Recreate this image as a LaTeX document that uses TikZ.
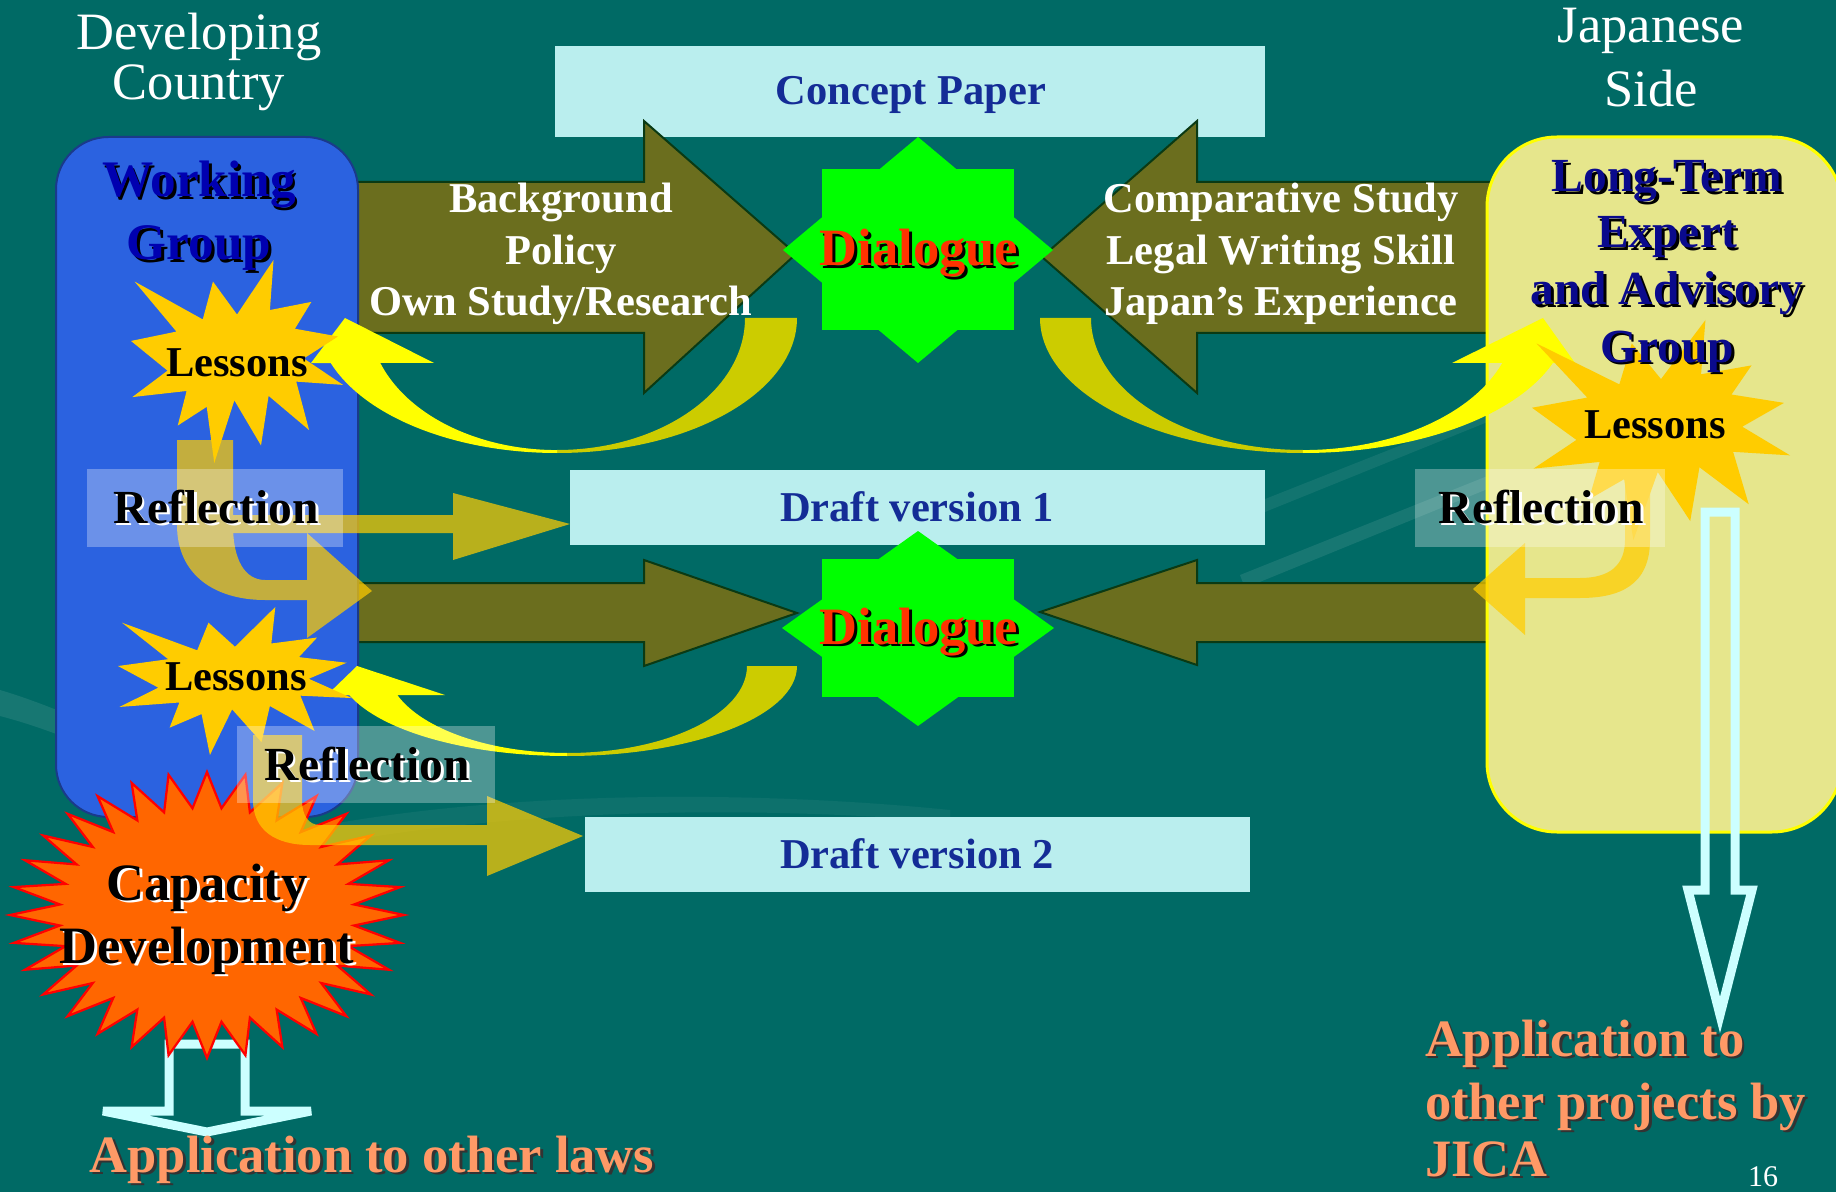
\documentclass[tikz,border=0pt]{standalone}
\usepackage{fontspec}
\setmainfont{Liberation Serif}
\definecolor{bgteal}{HTML}{006A65}
\definecolor{cyanbox}{HTML}{BAEEEE}
\definecolor{boxblue}{HTML}{142C96}
\definecolor{wgblue}{HTML}{2B62E0}
\definecolor{wgborder}{HTML}{1A3A8A}
\definecolor{wgtext}{HTML}{0000B0}
\definecolor{ltyellow}{HTML}{E6E68C}
\definecolor{ltborder}{HTML}{FFFF00}
\definecolor{lttext}{HTML}{0A0A8C}
\definecolor{olivef}{HTML}{6B6E1E}
\definecolor{oliveedge}{HTML}{0A3A14}
\definecolor{dlgreen}{HTML}{00FF00}
\definecolor{dlred}{HTML}{FF3300}
\definecolor{lessonfill}{HTML}{FFCC00}
\definecolor{brightyel}{HTML}{FFFF00}
\definecolor{darkyel}{HTML}{CCCC00}
\definecolor{capfill}{HTML}{FF6600}
\definecolor{capedge}{HTML}{FF0000}
\definecolor{downcyan}{HTML}{CCFFFF}
\definecolor{appsalmon}{HTML}{FF9966}
\newcommand\shtxt[6]{%
  \node[#3,text=#5,xshift=1.1pt,yshift=-1.1pt] (#1s) at (#2) {#6};
  \node[#3,text=#4] (#1) at (#2) {#6};}
\newcommand\explosion[4]{% x0, y0, w, h
  \fill[lessonfill] (#1+108/216*#3, #2+58/216*#4)
  \foreach \px/\py in {145.22/0, 141.55/53.25, 183.80/44.57, 167.02/73.15, 210.97/81.37,
     176.07/104.75, 216/132.90, 168.37/129.42, 181.45/180.95, 140.20/144.57, 132.47/197.37,
     105.32/149.35, 84.85/216, 77.15/156.27, 47.62/176.17, 56.67/139.37, 1.35/145.87,
     37.22/117.75, 0/86.15, 46.27/76.17, 3.70/22.95, 73.12/63.20, 83.52/22.95}
  { -- ({#1+\px/216*#3},{#2+\py/216*#4}) } -- cycle;}
\tikzset{
  sidelbl/.style={font=\fontsize{21}{25}\selectfont, text=white, anchor=base},
  boxlbl/.style={font=\fontsize{17}{20}\selectfont\bfseries, text=boxblue, anchor=base},
  arrowlbl/.style={font=\fontsize{17}{20}\selectfont\bfseries, text=white, anchor=base},
  wglbl/.style={font=\fontsize{20.5}{24}\selectfont\bfseries, anchor=base},
  ltlbl/.style={font=\fontsize{19}{23}\selectfont\bfseries, anchor=base},
  dlglbl/.style={font=\fontsize{21}{25}\selectfont\bfseries, anchor=base},
  lessonlbl/.style={font=\fontsize{17}{20}\selectfont\bfseries, text=black, anchor=base},
  refllbl/.style={font=\fontsize{19}{23}\selectfont\bfseries, anchor=base},
  caplbl/.style={font=\fontsize{21}{25}\selectfont\bfseries, anchor=base},
  applbl/.style={font=\fontsize{21}{25}\selectfont\bfseries, anchor=base, inner sep=1pt},
  applblw/.style={font=\fontsize{21}{25}\selectfont\bfseries, anchor=base west, inner sep=1pt},
  oarrow/.style={fill=olivef, draw=oliveedge, line width=0.8pt, line join=miter},
  reflarrow/.style={fill=lessonfill, fill opacity=0.72},
  reflbox/.style={fill=white, fill opacity=0.3},
  downarrow/.style={draw=downcyan, line width=3.6pt, line join=miter},
  cyanrect/.style={fill=cyanbox},
}
\begin{document}
\begin{tikzpicture}[x=0.4pt,y=-0.4pt]
\useasboundingbox (0,0) rectangle (1836,1192);
\clip (0,0) rectangle (1836,1192);
\fill[bgteal] (0,0) rectangle (1836,1192);
% faint background decoration
\fill[white, opacity=0.09] (0,690) .. controls (100,720) and (200,780) .. (300,840) -- (300,862) .. controls (200,802) and (100,742) .. (0,716) -- cycle;
\fill[white, opacity=0.05] (300,830) .. controls (500,790) and (750,790) .. (950,810) -- (950,822) .. controls (750,805) and (500,808) .. (300,850) -- cycle;
\fill[white, opacity=0.09] (1240,575) -- (1490,475) -- (1490,488) -- (1245,588) -- cycle;
\fill[white, opacity=0.07] (1250,505) -- (1490,410) -- (1490,421) -- (1255,516) -- cycle;
% cyan boxes
\fill[cyanrect] (555,46) rectangle (1265,137);
\fill[cyanrect] (570,470) rectangle (1265,545);
\fill[cyanrect] (585,817) rectangle (1250,892);
% olive arrows
\draw[oarrow] (357,182) -- (644,182) -- (644,121) -- (796,254) -- (644,393) -- (644,333) -- (357,333) -- cycle;
\draw[oarrow] (1492,182) -- (1197,182) -- (1197,121) -- (1042,257) -- (1197,393) -- (1197,333) -- (1492,333) -- cycle;
\draw[oarrow] (357,583) -- (644,583) -- (644,560) -- (797,613) -- (644,666) -- (644,642) -- (357,642) -- cycle;
\draw[oarrow] (1492,583) -- (1197,583) -- (1197,560) -- (1040,612) -- (1197,665) -- (1197,642) -- (1492,642) -- cycle;
% side boxes
\draw[fill=wgblue, draw=wgborder, line width=0.8pt, rounded corners=21pt] (56,137) rectangle (358,817);
\draw[fill=ltyellow, draw=ltborder, line width=1.2pt, rounded corners=28pt] (1487,137) rectangle (1842,832);
% dialogue stars
\fill[dlgreen] (822,169) rectangle (1014,330);
\fill[dlgreen] (918,137) -- (1053,250) -- (918,363) -- (783,250) -- cycle;
\fill[dlgreen] (822,559) rectangle (1014,697);
\fill[dlgreen] (918,531) -- (1054,628) -- (918,726) -- (782,628) -- cycle;
% curved arrows
\fill[darkyel] (797,318) arc[start angle=0, end angle=90, x radius=240, y radius=135] -- (557,450) arc[start angle=90, end angle=0, x radius=188, y radius=132] -- cycle;
\fill[brightyel] (557,453) arc[start angle=90, end angle=160.5, x radius=240, y radius=135] -- (311,363) -- (345,318) -- (434,363) -- (380.3,363) arc[start angle=160.1, end angle=90, x radius=188, y radius=132] -- cycle;
\fill[darkyel] (1040,318) arc[start angle=180, end angle=90, x radius=263, y radius=135] -- (1303,450) arc[start angle=90, end angle=180, x radius=212, y radius=132] -- cycle;
\fill[brightyel] (1303,453) arc[start angle=90, end angle=19.5, x radius=265, y radius=135] -- (1575,363) -- (1543,318) -- (1452,363) -- (1502.3,363) arc[start angle=19.9, end angle=90, x radius=212, y radius=132] -- cycle;
\fill[darkyel] (797,666) arc[start angle=0, end angle=90, x radius=230, y radius=90] -- (567,753) arc[start angle=90, end angle=0, x radius=180, y radius=87] -- cycle;
\fill[brightyel] (567,756) arc[start angle=90, end angle=161.2, x radius=230, y radius=90] -- (327,695) -- (357,666) -- (445,695) -- (397.3,695) arc[start angle=160.5, end angle=90, x radius=180, y radius=87] -- cycle;
% lessons stars
\explosion{131}{260}{212}{203}
\explosion{118}{607}{234}{148}
\explosion{1532}{320}{258}{220}
% down arrows
\draw[downarrow] (169,1044) -- (169,1111) -- (103,1111) -- (207,1132) -- (311,1111) -- (245,1111) -- (245,1044) -- cycle;
\draw[downarrow] (1705,512) -- (1705,890) -- (1688,890) -- (1720,1015) -- (1752,890) -- (1735,890) -- (1735,512) -- cycle;
% capacity star
\draw[fill=capfill, draw=capedge, line width=0.9pt, line join=miter]
  plot[domain=0:63, samples=64, variable=\i] ({207+(0.875+0.125*cos(\i*180))*197*cos(\i*5.625)},{915+(0.875+0.125*cos(\i*180))*143*sin(\i*5.625)}) -- cycle;
% reflection arrows
\fill[reflarrow] (177,440) -- (177,525) .. controls (177,575) and (215,600) .. (265,600) -- (307,600) -- (307,638) -- (372,591) -- (307,533) -- (307,580) -- (265,580) .. controls (245,580) and (233,560) .. (233,525) -- (233,440) -- cycle;
\fill[reflarrow] (233,515) -- (453,515) -- (453,493) -- (570,524) -- (453,560) -- (453,533) -- (233,533) -- cycle;
\fill[reflarrow] (253,735) -- (253,800) .. controls (253,830) and (275,845) .. (310,845) -- (487,845) -- (487,876) -- (583,836) -- (487,796) -- (487,825) -- (320,825) .. controls (308,825) and (302,815) .. (302,800) -- (302,735) -- cycle;
\fill[reflarrow] (1650,470) -- (1650,540) .. controls (1650,585) and (1620,598) .. (1580,598) -- (1525,598) -- (1525,635) -- (1473,589) -- (1525,543) -- (1525,578) -- (1580,578) .. controls (1610,578) and (1625,565) .. (1625,540) -- (1625,470) -- cycle;
% reflection boxes
\fill[reflbox] (87,469) rectangle (343,547);
\fill[reflbox] (237,726) rectangle (495,803);
\fill[reflbox] (1415,469) rectangle (1665,547);
% texts
\node[sidelbl] (dev1) at (199,50) {Developing};
\node[sidelbl] (dev2) at (199,100) {Country};
\node[sidelbl] (jp1) at (1651,43) {Japanese};
\node[sidelbl] (jp2) at (1651,107) {Side};
\node[boxlbl] (cp) at (911,105) {Concept Paper};
\node[boxlbl] (dv1) at (917,521) {Draft version 1};
\node[boxlbl] (dv2) at (917,868) {Draft version 2};
\node[arrowlbl] (bg1) at (561,213) {Background};
\node[arrowlbl] (bg2) at (561,265) {Policy};
\node[arrowlbl] (bg3) at (561,316) {Own Study/Research};
\node[arrowlbl] (cs1) at (1281,213) {Comparative Study};
\node[arrowlbl] (cs2) at (1281,265) {Legal Writing Skill};
\node[arrowlbl] (cs3) at (1281,316) {Japan’s Experience};
\shtxt{wga}{199,197}{wglbl}{wgtext}{black}{Working}
\shtxt{wgb}{199,260}{wglbl}{wgtext}{black}{Group}
\shtxt{lta}{1667,192}{ltlbl}{lttext}{black}{Long-Term}
\shtxt{ltb}{1667,248}{ltlbl}{lttext}{black}{Expert}
\shtxt{ltc}{1667,305}{ltlbl}{lttext}{black}{and Advisory}
\shtxt{ltd}{1667,362}{ltlbl}{lttext}{black}{Group}
\shtxt{dga}{919,266}{dlglbl}{dlred}{black}{Dialogue}
\shtxt{dgb}{919,644}{dlglbl}{dlred}{black}{Dialogue}
\node[lessonlbl] (lsa) at (237,377) {Lessons};
\node[lessonlbl] (lsb) at (236,690) {Lessons};
\node[lessonlbl] (lsc) at (1655,438) {Lessons};
\shtxt{rfa}{216,523}{refllbl}{black}{white}{Reflection}
\shtxt{rfb}{367,780}{refllbl}{black}{white}{Reflection}
\shtxt{rfc}{1541,523}{refllbl}{black}{white}{Reflection}
\shtxt{cda}{207,900}{caplbl}{black}{white}{Capacity}
\shtxt{cdb}{207,963}{caplbl}{black}{white}{Development}
\shtxt{apl}{372,1172}{applbl}{appsalmon}{black!80}{Application to other laws}
\shtxt{apa}{1422,1056}{applblw}{appsalmon}{black!80}{Application to}
\shtxt{apb}{1422,1119}{applblw}{appsalmon}{black!80}{other projects by}
\shtxt{apc}{1422,1176}{applblw}{appsalmon}{black!80}{JICA}
\node[font=\fontsize{12}{14}\selectfont, text=white, anchor=base, inner sep=1pt] (pg) at (1763,1186) {16};
\end{tikzpicture}
\end{document}
